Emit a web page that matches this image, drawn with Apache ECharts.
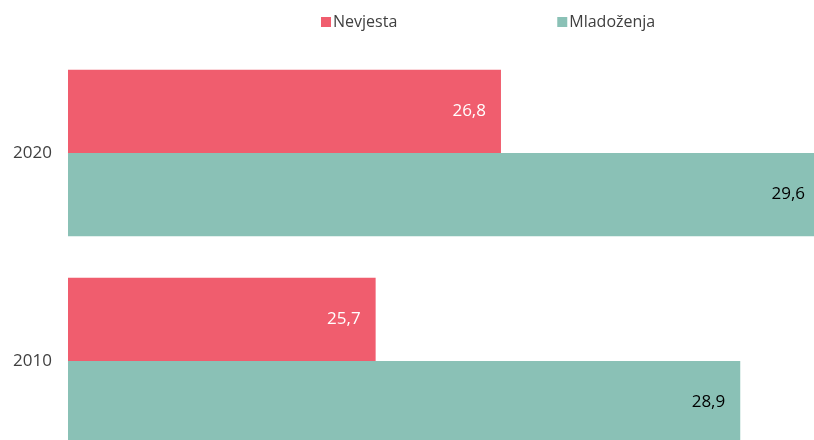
<!DOCTYPE html>
<html>
<head>
<meta charset="utf-8">
<script src="https://cdn.jsdelivr.net/npm/echarts@6/dist/echarts.min.js"></script>
<style>
  html, body { margin: 0; padding: 0; background: #fff; }
  #chart { width: 814px; height: 440px; }
</style>
</head>
<body>
<div id="chart"></div>
<script>
// bottom to top
const years = ['2010', '2020'];
const bride = [25.7, 26.8];
const groom = [28.9, 29.6];

const font = 'Open Sans';
const fmt = (p) => String(p.value).replace('.', ',');

const chart = echarts.init(document.getElementById('chart'));
chart.setOption({
  animation: false,
  textStyle: {fontFamily: font},
  legend: {
    data: ['Nevjesta', 'Mladoženja'],
    left: 316,
    top: 9,
    icon: 'rect',
    itemWidth: 10,
    itemHeight: 10,
    itemGap: 160,
    textStyle: {fontFamily: font, fontSize: 16, color: '#404040', padding: [0, 0, 0, -3]}
  },
  // plot area runs past the bottom/right edge of the canvas, like the original
  grid: {
    left: 68, top: 49, width: 752, height: 416,
    containLabel: false,
    outerBoundsMode: 'none'
  },
  xAxis: {
    type: 'value',
    min: 23,
    max: 29.6,
    show: false
  },
  yAxis: {
    type: 'category',
    data: years,
    axisLine: {show: false},
    axisTick: {show: false},
    axisLabel: {margin: 16, fontSize: 17, color: '#404040', fontFamily: font}
  },
  series: [
    {
      name: 'Nevjesta',
      type: 'bar',
      data: bride,
      barGap: '0%',
      barCategoryGap: '20%',
      itemStyle: {color: '#f05d6e'},
      label: {
        show: true,
        position: 'insideRight',
        distance: 15,
        color: '#fff',
        fontSize: 17,
        fontFamily: font,
        formatter: fmt
      }
    },
    {
      name: 'Mladoženja',
      type: 'bar',
      data: groom,
      barGap: '0%',
      barCategoryGap: '20%',
      itemStyle: {color: '#8ac1b6'},
      label: {
        show: true,
        position: 'insideRight',
        distance: 15,
        color: '#000',
        fontSize: 17,
        fontFamily: font,
        formatter: fmt
      }
    }
  ]
});
</script>
</body>
</html>
